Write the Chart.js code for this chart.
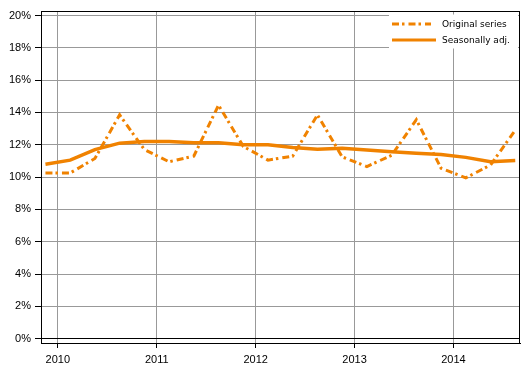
<!DOCTYPE html>
<html>
<head>
<meta charset="utf-8">
<script src="https://cdn.jsdelivr.net/npm/chart.js@4"></script>
<style>
  body { margin: 0; background: #fff; }
  canvas { display: block; }
</style>
</head>
<body>
<canvas id="mycanvas" width="529" height="378"></canvas>
<script>
// quarterly observations, plotted at the middle of each quarter
var quarters = ['2009Q4', '2010Q1', '2010Q2', '2010Q3', '2010Q4', '2011Q1', '2011Q2', '2011Q3',
  '2011Q4', '2012Q1', '2012Q2', '2012Q3', '2012Q4', '2013Q1', '2013Q2', '2013Q3',
  '2013Q4', '2014Q1', '2014Q2', '2014Q3'];
var original = [10.25, 10.25, 11.15, 13.85, 11.7, 10.95, 11.3, 14.45, 11.9, 11.05,
  11.3, 13.85, 11.25, 10.65, 11.35, 13.55, 10.55, 9.95, 10.75, 12.9];
var seasonal = [10.8, 11.05, 11.7, 12.1, 12.2, 12.2, 12.13, 12.13, 12.0, 12.0,
  11.83, 11.72, 11.78, 11.68, 11.57, 11.47, 11.4, 11.22, 10.95, 11.03];
var yearTicks = [2010, 2011, 2012, 2013, 2014];
var pctTicks = [0, 2, 4, 6, 8, 10, 12, 14, 16, 18, 20];

var orange = 'rgb(240, 130, 0)';

function qPos(q) {
  var yr = parseInt(q.substring(0, 4));
  var n = parseInt(q.substring(5));
  return yr + (n - 0.5) / 4;
}

var originalPts = [];
var seasonalPts = [];
for (var i in quarters) {
  originalPts.push({x: qPos(quarters[i]), y: original[i]});
  seasonalPts.push({x: qPos(quarters[i]), y: seasonal[i]});
}

// black frame round the plot area
var frame = {
  id: 'frame',
  beforeDatasetsDraw: function(chart) {
    var a = chart.chartArea, c = chart.ctx;
    c.save();
    c.strokeStyle = '#000';
    c.lineWidth = 1;
    c.strokeRect(Math.round(a.left) + 0.5, Math.round(a.top) + 0.5,
      Math.round(a.right - a.left) - 1, Math.round(a.bottom - a.top));
    c.restore();
  }
};

// legend box in the top right corner of the plot
var boxLegend = {
  id: 'boxLegend',
  afterDraw: function(chart) {
    var c = chart.ctx;
    var ds = chart.data.datasets;
    c.save();
    c.fillStyle = '#fff';
    c.fillRect(389, 14.5, 129, 34);
    c.font = '9px "DejaVu Sans"';
    c.textBaseline = 'middle';
    c.fillStyle = '#000';
    for (var i = 0; i < ds.length; i++) {
      var y = 24 + i * 16;
      c.beginPath();
      c.strokeStyle = ds[i].borderColor;
      c.lineWidth = 3;
      c.setLineDash(ds[i].borderDash || []);
      c.moveTo(392, y);
      c.lineTo(i == 0 ? 431 : 436, y);
      c.stroke();
      c.setLineDash([]);
      c.fillText(ds[i].label, 442, y + 0.5);
    }
    c.restore();
  }
};

var chartdata = {
  datasets: [
    {
      label: 'Original series',
      data: originalPts,
      borderColor: orange,
      backgroundColor: orange,
      borderWidth: 3,
      borderDash: [7, 3, 2.5, 4],
      borderCapStyle: 'butt',
      pointRadius: 0,
      fill: false,
      tension: 0
    },
    {
      label: 'Seasonally adj.',
      data: seasonalPts,
      borderColor: orange,
      backgroundColor: orange,
      borderWidth: 3.5,
      pointRadius: 0,
      fill: false,
      tension: 0
    }
  ]
};

var ctx = document.getElementById('mycanvas');
var LineGraph = new Chart(ctx, {
  type: 'line',
  data: chartdata,
  plugins: [frame, boxLegend],
  options: {
    responsive: false,
    animation: false,
    layout: { padding: { top: 11, right: 9, left: 0, bottom: 0 } },
    plugins: { legend: { display: false }, tooltip: { enabled: false } },
    scales: {
      x: {
        type: 'linear',
        min: 2009.83,
        max: 2014.673,
        afterBuildTicks: function(scale) {
          scale.ticks = yearTicks.map(function(v) { return {value: v}; });
        },
        afterFit: function(scale) { scale.height = 35; },
        grid: { color: '#999', tickColor: '#000', tickLength: 5, lineWidth: 1 },
        border: { color: '#000' },
        ticks: {
          color: '#000',
          padding: 5,
          maxRotation: 0,
          font: { family: '"Liberation Sans", Arial', size: 11 },
          callback: function(v) { return String(v); }
        }
      },
      y: {
        min: -0.27,
        max: 20.28,
        afterBuildTicks: function(scale) {
          scale.ticks = pctTicks.map(function(v) { return {value: v}; });
        },
        afterFit: function(scale) { scale.width = 41; },
        grid: {
          color: function(c) { return c.tick && c.tick.value === 0 ? '#000' : '#999'; },
          tickColor: '#000',
          tickLength: 6,
          lineWidth: 1
        },
        border: { color: '#000' },
        ticks: {
          color: '#000',
          padding: 4,
          font: { family: '"Liberation Sans", Arial', size: 11 },
          callback: function(v) { return v + '%'; }
        }
      }
    }
  }
});
</script>
</body>
</html>
